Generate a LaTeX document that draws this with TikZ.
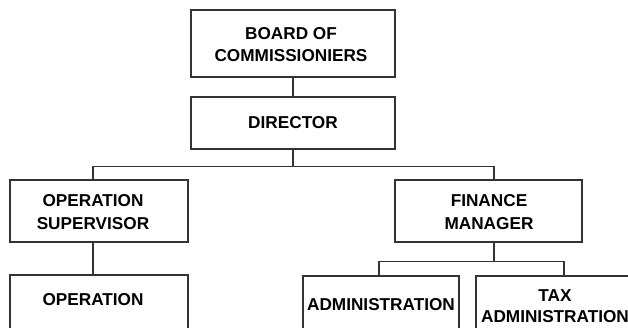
\documentclass[tikz,border=0pt]{standalone}
\usepackage{fontspec}
\setmainfont{Liberation Sans}
\begin{document}
\begin{tikzpicture}[x=1pt,y=-1pt,
  box/.style={draw=black!80,line width=1.3pt,fill=white,inner sep=0pt,outer sep=0pt,minimum width=#1},
  lbl/.style={font=\fontsize{17.2}{22.5}\selectfont\bfseries,text=black,align=center,inner sep=0pt},
  conn/.style={draw=black!80,line width=1.3pt}]
\useasboundingbox (0,0) rectangle (628,328);
\clip (0,0) rectangle (628,328);
% boxes
\node[box=204pt,minimum height=67pt,anchor=north west] (board) at (191,10) {};
\node[box=204pt,minimum height=52pt,anchor=north west] (dir) at (191,97) {};
\node[box=178pt,minimum height=62pt,anchor=north west] (sup) at (10,180) {};
\node[box=187pt,minimum height=62pt,anchor=north west] (fin) at (395,180) {};
\node[box=178pt,minimum height=70pt,anchor=north west] (op) at (10,275) {};
\node[box=156pt,minimum height=70pt,anchor=north west] (adm) at (303,276) {};
\node[box=164pt,minimum height=70pt,anchor=north west] (tax) at (476,276) {};
% labels
\node[lbl] (tboard) at (291,44.5) {BOARD OF\\COMMISSIONIERS};
\node[lbl] (tdir) at (293,122.5) {DIRECTOR};
\node[lbl] (tsup) at (93,212) {OPERATION\\SUPERVISOR};
\node[lbl] (tfin) at (489,212) {FINANCE\\MANAGER};
\node[lbl] (top) at (93,300) {OPERATION};
\node[lbl] (tadm) at (381,305) {ADMINISTRATION};
\node[lbl,font=\fontsize{17.2}{21}\selectfont\bfseries] (ttax) at (555,306) {TAX\\ADMINISTRATION};
% junctions
\coordinate (j1) at (293,166.5);
\coordinate (j2) at (494,261.5);
% connectors
\draw[conn] (board.south) -- (dir.north);
\draw[conn] (dir.south) -- (j1);
\draw[conn] ([xshift=-6pt]sup.north) |- (j1) -| ([xshift=5.5pt]fin.north);
\draw[conn] ([xshift=-6pt]sup.south) -- ([xshift=-6pt]op.north);
\draw[conn] ([xshift=5.5pt]fin.south) -- (j2);
\draw[conn] ([xshift=-2pt]adm.north) |- (j2) -| ([xshift=6pt]tax.north);
\end{tikzpicture}
\end{document}
